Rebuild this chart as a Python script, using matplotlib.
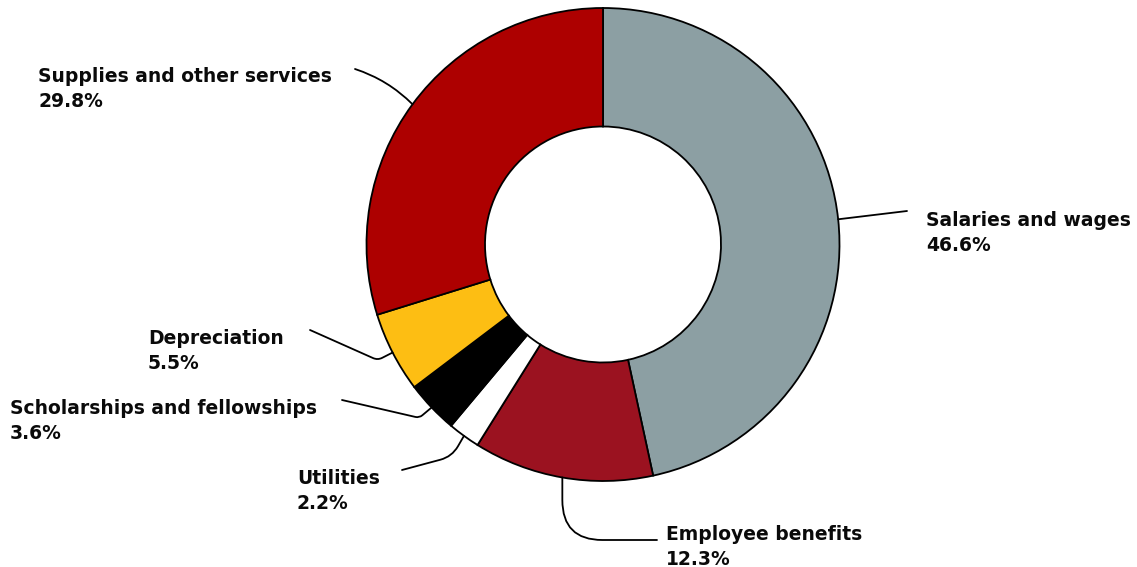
import numpy as np
import matplotlib
matplotlib.use('Agg')
import matplotlib.pyplot as plt

# data
categories = ['Salaries and wages', 'Employee benefits', 'Utilities',
              'Scholarships and fellowships', 'Depreciation',
              'Supplies and other services']
shares = [46.6, 12.3, 2.2, 3.6, 5.5, 29.8]
colors = ['#8c9fa3', '#9b1220', '#ffffff', '#000000', '#fdbe13', '#ad0000']

# layout (pixel coords, y down)
W, H = 1137, 567
cx, cy = 603, 244.5
R_out, R_in = 236.5, 118
# label left x, first-line baseline y
label_pos = [(926, 226), (666, 540), (297, 484), (10, 414), (148, 344), (38, 82)]
# where the leader line leaves the label
line_start = [(907, 211), (657, 540), (402, 470), (342, 400), (310, 330), (355, 69)]
line_style = ['arc3,rad=0',
              'angle,angleA=0,angleB=90,rad=40',
              'angle,angleA=15,angleB=60,rad=12',
              'angle,angleA=-13,angleB=40,rad=4',
              'angle,angleA=-24,angleB=27,rad=5',
              'arc3,rad=-0.12']

plt.rcParams['font.family'] = ['DejaVu Sans']

fig = plt.figure(figsize=(W / 100, H / 100), dpi=100)
ax = fig.add_axes([0, 0, 1, 1])

# y axis is flipped below, so counterclock + start at -90 gives clockwise from top
wedges, _ = ax.pie(shares, colors=colors, startangle=-90, counterclock=True,
                   radius=R_out, center=(cx, cy),
                   wedgeprops=dict(width=R_out - R_in, edgecolor='black',
                                   linewidth=1.3))

ax.set_xlim(0, W)
ax.set_ylim(H, 0)
ax.set_aspect('equal')
ax.axis('off')

for w, name, val, (tx, ty), (sx, sy), cs in zip(wedges, categories, shares,
                                                label_pos, line_start, line_style):
    mid = np.deg2rad((w.theta1 + w.theta2) / 2)
    ex = cx + R_out * np.cos(mid)
    ey = cy + R_out * np.sin(mid)
    ax.annotate('', xy=(ex, ey), xytext=(sx, sy),
                arrowprops=dict(arrowstyle='-', connectionstyle=cs, color='black',
                                lw=1.3, shrinkA=0, shrinkB=0))
    ax.text(tx, ty, name, fontsize=13.5, fontweight='bold', color='#0a0a0a',
            ha='left', va='baseline')
    ax.text(tx, ty + 25, f'{val}%', fontsize=13.5, fontweight='bold',
            color='#0a0a0a', ha='left', va='baseline')

fig.savefig('out.png', dpi=100)
